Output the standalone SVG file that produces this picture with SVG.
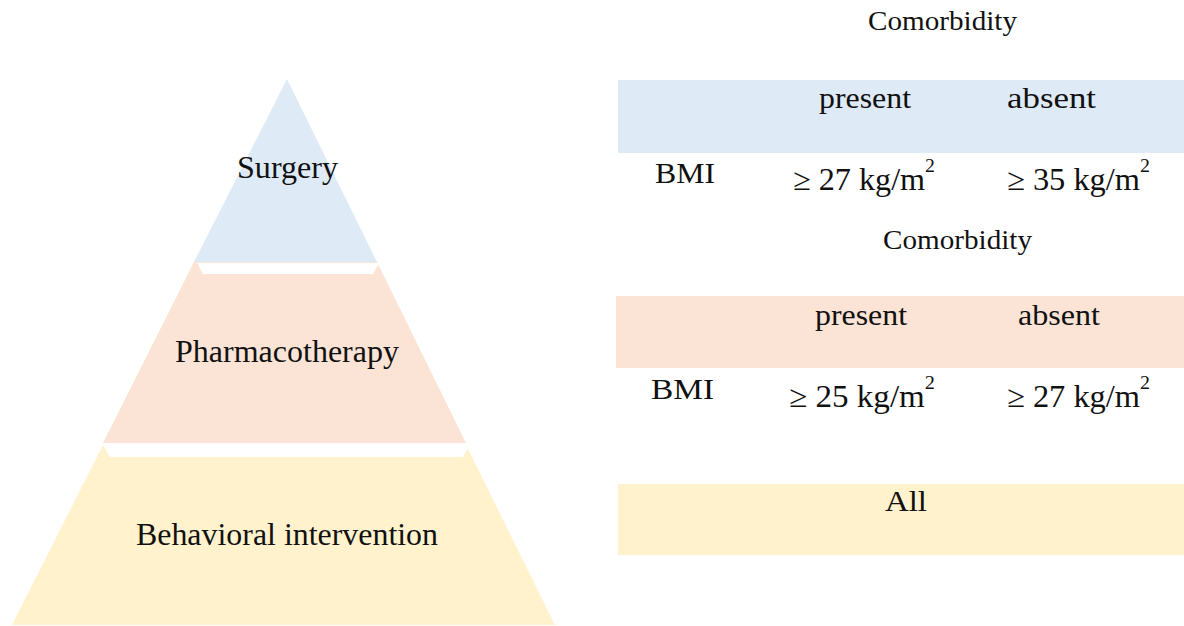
<svg xmlns="http://www.w3.org/2000/svg" width="1184" height="626" viewBox="0 0 1184 626">
<style>
text{font-family:"Liberation Serif","Times New Roman",serif;fill:#111;}
.t{font-size:30px;}
.v{font-size:31px;}
.p{font-size:31px;}
.c{font-size:27px;}
.sup{font-size:19px;}
.blue{fill:#DEEBF7;}
.pink{fill:#FBE4D6;}
.yel{fill:#FFF2CC;}
.bev{fill:#FFFFFF;}
</style>
<rect width="1184" height="626" fill="#FFFFFF"/>
<g id="tier-behavioral">
<polygon class="yel" points="103,445 466,445 555,625 12,625"/>
<polygon class="bev" points="103,445 470,445 463,457 110,457"/>
<text class="p" x="136" y="545" textLength="302" lengthAdjust="spacingAndGlyphs">Behavioral intervention</text>
</g>
<g id="tier-pharmacotherapy">
<polygon class="pink" points="194,262 377,262 466,443 103,443"/>
<polygon class="bev" points="197,263 379,263 373,274 203,274"/>
<text class="p" x="175" y="362" textLength="224" lengthAdjust="spacingAndGlyphs">Pharmacotherapy</text>
</g>
<g id="tier-surgery">
<polygon class="blue" points="287,79 377,262 194,262"/>
<text class="p" x="237" y="178" textLength="101" lengthAdjust="spacingAndGlyphs">Surgery</text>
</g>
<g id="table-surgery">
<text class="c" x="868" y="30" textLength="149" lengthAdjust="spacingAndGlyphs">Comorbidity</text>
<rect class="blue" x="618" y="80" width="566" height="73"/>
<text class="t" x="819" y="108" textLength="92" lengthAdjust="spacingAndGlyphs">present</text>
<text class="t" x="1007" y="108" textLength="89" lengthAdjust="spacingAndGlyphs">absent</text>
<text class="t" x="655" y="183" textLength="60" lengthAdjust="spacingAndGlyphs">BMI</text>
<text class="v" x="793" y="190" textLength="142" lengthAdjust="spacingAndGlyphs">≥ 27 kg/m<tspan class="sup" dy="-18">2</tspan></text>
<text class="v" x="1007" y="190" textLength="143" lengthAdjust="spacingAndGlyphs">≥ 35 kg/m<tspan class="sup" dy="-18">2</tspan></text>
</g>
<g id="table-pharmacotherapy">
<text class="c" x="883" y="249" textLength="149" lengthAdjust="spacingAndGlyphs">Comorbidity</text>
<rect class="pink" x="616" y="296" width="568" height="72"/>
<text class="t" x="815" y="325" textLength="92" lengthAdjust="spacingAndGlyphs">present</text>
<text class="t" x="1018" y="325" textLength="82" lengthAdjust="spacingAndGlyphs">absent</text>
<text class="t" x="651" y="399" textLength="63" lengthAdjust="spacingAndGlyphs">BMI</text>
<text class="v" x="789" y="407" textLength="146" lengthAdjust="spacingAndGlyphs">≥ 25 kg/m<tspan class="sup" dy="-18">2</tspan></text>
<text class="v" x="1007" y="407" textLength="143" lengthAdjust="spacingAndGlyphs">≥ 27 kg/m<tspan class="sup" dy="-18">2</tspan></text>
</g>
<g id="table-behavioral">
<rect class="yel" x="618" y="484" width="566" height="71"/>
<text class="t" x="885" y="511" textLength="42" lengthAdjust="spacingAndGlyphs">All</text>
</g>
</svg>
